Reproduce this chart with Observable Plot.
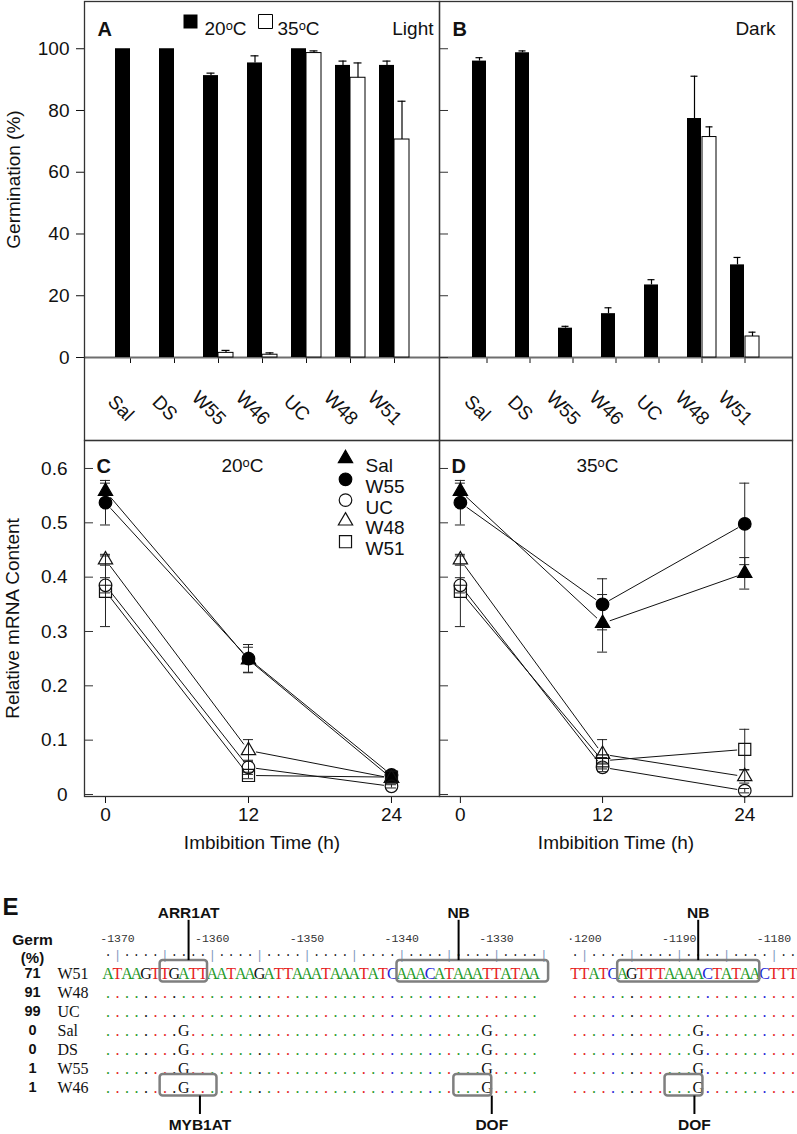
<!DOCTYPE html>
<html><head><meta charset="utf-8">
<script src="https://cdn.jsdelivr.net/npm/d3@7"></script>
<script src="https://cdn.jsdelivr.net/npm/@observablehq/plot@0.6"></script>
<style>
body{margin:0;background:#fff;}
#fig{position:relative;width:797px;height:1134px;overflow:hidden;background:#fff;}
#fig svg{position:absolute;overflow:visible;}
</style></head><body><div id="fig"></div>
<script>
// ---------- DATA ----------
const lines = ["Sal","DS","W55","W46","UC","W48","W51"];
const lightG20 = [100,100,91.3,95.4,100,94.6,94.6];
const lightE20 = [0,0,0.8,2.3,0,1.4,1.4];
const lightG35 = [0,0,1.5,0.9,98.6,90.6,70.6];
const lightE35 = [0,0,0.8,0.6,0.7,4.8,12.4];
const darkG20 = [96.0,98.7,9.5,14.2,23.5,77.4,30.0];
const darkE20 = [1.1,0.6,0.6,1.9,1.7,13.7,2.4];
const darkG35 = [0,0,0,0,0,71.4,6.8];
const darkE35 = [0,0,0,0,0,3.3,1.4];
const germTicks = [0,20,40,60,80,100];

const hours = [0,12,24];
const mrnaSeries = ["Sal","W55","UC","W48","W51"];
const mrna20 = [[0.558,0.248,0.030],[0.537,0.250,0.036],[0.385,0.050,0.015],[0.432,0.081,0.030],[0.374,0.035,0.032]];
const mrna20Err = [[0.015,0.023,0.004],[0.041,0.026,0.005],[0.014,0.013,0.003],[0.010,0.020,0.004],[0.065,0.006,0.004]];
const mrna35 = [[0.558,0.315,0.407],[0.537,0.350,0.498],[0.385,0.050,0.007],[0.432,0.074,0.033],[0.374,0.062,0.083]];
const mrna35Err = [[0.015,0.053,0.029],[0.041,0.047,0.075],[0.014,0.008,0.004],[0.010,0.027,0.012],[0.065,0.006,0.037]];
const mrnaTicks = [0,0.1,0.2,0.3,0.4,0.5,0.6];

const eRows = ["W51","W48","UC","Sal","DS","W55","W46"];
const eGerm = [71,91,99,0,0,1,1];
const seq1 = "ATAAGTTGATTAATAAGATTAAATAAATATCAAACATAAATTATAA";
const seq1Start = -1371;
const seq2 = "TTATCAGTTTAAAACTATAACTTT";
const seq2Start = -1201;
const ruler1 = [-1371, -1325];
const ruler2 = [-1201, -1178];
const snpPos = [-1363, -1331, -1188];
const snpAllele = "G";
const snpLines = ["Sal","DS","W55","W46"];
const rulerPos1 = [-1370,-1360,-1350,-1340,-1330];
const rulerLabels1 = ["-1370","-1360","-1350","-1340","-1330"];
const rulerPos2 = [-1200,-1190,-1180];
const rulerLabels2 = ["·1200","-1190","-1180"];
const topMotifs = ["ARR1AT","NB","NB"];
const topFrom = [-1365,-1340,-1196];
const topTo = [-1361,-1325,-1182];
const topMark = [-1362.5,-1334,-1188];
const bottomMotifs = ["MYB1AT","DOF","DOF"];
const bottomFrom = [-1365,-1334,-1191];
const bottomTo = [-1360,-1331,-1188];
const bottomMark = [-1361.3,-1330.5,-1188.4];

// ---------- HELPERS ----------
const fig = document.getElementById("fig");
function place(svg, left, top){ svg.style.left = left + "px"; svg.style.top = top + "px"; fig.appendChild(svg); }
const FONT = "'Liberation Sans', Arial, Helvetica, sans-serif";
const NARROW = "'Liberation Sans Narrow', 'Liberation Sans', Arial, sans-serif";
const MONO = "'Liberation Mono', 'DejaVu Sans Mono', monospace";
const SEQ = "'Liberation Serif', 'DejaVu Serif', serif";
const style = {fontFamily: FONT, fontSize: "19px", background: "transparent", overflow: "visible", color: "#111"};

// ---------- A / B ----------
function germPlot({letter, cond, condDx, g20, e20, g35, e35, width, marginLeft, marginRight, isLeft, legend}){
  const data = lines.map((c,i) => ({cat:c, v20:g20[i], e20:e20[i], v35:g35[i], e35:e35[i]}));
  const plotW = width - marginLeft - marginRight;
  const err20 = data.filter(d => d.e20 > 0), err35 = data.filter(d => d.e35 > 0 && d.v35 > 0);
  const marks = [
    Plot.ruleY([0], {stroke: "#6e6e6e", strokeWidth: 2}),
    Plot.barY(data, {x: "cat", y: "v20", fill: "#000", insetRight: 15}),
    Plot.barY(data.filter(d => d.v35 > 0), {x: "cat", y: "v35", fill: "#fff", stroke: "#000", strokeWidth: 1, insetLeft: 15}),
    Plot.ruleX(err20, {x: "cat", y1: "v20", y2: d => d.v20 + d.e20, dx: -7.5, stroke: "#000", strokeWidth: 1.2}),
    Plot.tickY(err20, {x: "cat", y: d => d.v20 + d.e20, insetLeft: 3.5, insetRight: 18.5, stroke: "#000", strokeWidth: 1.2}),
    Plot.ruleX(err35, {x: "cat", y1: "v35", y2: d => d.v35 + d.e35, dx: 7.5, stroke: "#000", strokeWidth: 1.2}),
    Plot.tickY(err35, {x: "cat", y: d => d.v35 + d.e35, insetLeft: 18.5, insetRight: 3.5, stroke: "#000", strokeWidth: 1.2}),
    Plot.frame({stroke: "#333", strokeWidth: 1.3, insetBottom: -83}),
    Plot.text(lines, {x: d => d, frameAnchor: "bottom", rotate: 45, dx: -14, dy: 55, fontSize: 19, textAnchor: "middle"}),
    Plot.text([letter], {frameAnchor: "top-left", dx: 13, dy: 20, fontWeight: "bold", fontSize: 20, textAnchor: "start"}),
    Plot.text([cond], {frameAnchor: "top-right", dx: condDx, dy: 20, textAnchor: "end", fontSize: 19})
  ];
  if (!isLeft) marks.push(Plot.tickY(germTicks, {y: d => d, insetRight: plotW - 9, stroke: "#333"}));
  if (isLeft) marks.push(Plot.text(["Germination (%)"], {frameAnchor: "left", dx: -71, rotate: -90, fontSize: 19, textAnchor: "middle"}));
  if (legend) {
    marks.push(
      Plot.dot(["20"], {frameAnchor: "top-left", dx: 106, dy: 20, symbol: "square", r: 7.9, fill: "#000"}),
      Plot.text(["20ᵒC"], {frameAnchor: "top-left", dx: 120, dy: 20, textAnchor: "start", fontSize: 19}),
      Plot.dot(["35"], {frameAnchor: "top-left", dx: 181, dy: 20, symbol: "square", r: 7.9, fill: "#fff", stroke: "#000", strokeWidth: 1}),
      Plot.text(["35ᵒC"], {frameAnchor: "top-left", dx: 193, dy: 20, textAnchor: "start", fontSize: 19})
    );
  }
  return Plot.plot({
    width, height: 445, marginTop: 1, marginBottom: 88, marginLeft, marginRight, style,
    x: {type: "band", domain: lines, paddingInner: 0.323, paddingOuter: 0.68, tickSize: 6, tickFormat: () => "", label: null},
    y: {domain: [0, 115.3], ticks: germTicks, tickSize: 8, tickPadding: 7, label: null, axis: isLeft ? "left" : null},
    marks
  });
}
place(germPlot({letter: "A", cond: "Light", condDx: -6, g20: lightG20, e20: lightE20, g35: lightG35, e35: lightE35, width: 440, marginLeft: 84, marginRight: 1, isLeft: true, legend: true}), 0, 0);
place(germPlot({letter: "B", cond: "Dark", condDx: -17, g20: darkG20, e20: darkE20, g35: darkG35, e35: darkE35, width: 363, marginLeft: 5, marginRight: 5, isLeft: false, legend: false}), 434, 0);

// ---------- C / D ----------
const seriesStyle = {
  Sal: {symbol: "triangle", r: 5.3, fill: "#000", stroke: "#000"},
  W55: {symbol: "circle", r: 6.3, fill: "#000", stroke: "#000"},
  UC: {symbol: "circle", r: 6.3, fill: "none", stroke: "#111"},
  W48: {symbol: "triangle", r: 5.3, fill: "none", stroke: "#111"},
  W51: {symbol: "square", r: 6.8, fill: "none", stroke: "#111"}
};
function mrnaPlot({letter, temp, vals, errs, width, marginLeft, marginRight, isLeft, legend}){
  const plotW = width - marginLeft - marginRight;
  const pts = [], segs = [];
  mrnaSeries.forEach((s, si) => {
    hours.forEach((h, hi) => pts.push({s, h, v: vals[si][hi], e: errs[si][hi]}));
    for (let hi = 0; hi < hours.length - 1; hi++) segs.push({s, x1: hours[hi], y1: vals[si][hi], x2: hours[hi+1], y2: vals[si][hi+1]});
  });
  const marks = [
    Plot.frame({stroke: "#333", strokeWidth: 1.3}),
    Plot.arrow(segs, {x1: "x1", y1: "y1", x2: "x2", y2: "y2", headLength: 0, insetStart: 8, insetEnd: 8, stroke: "#111", strokeWidth: 1}),
    Plot.ruleX(pts, {x: "h", y1: d => d.v - d.e, y2: d => d.v + d.e, stroke: "#222", strokeWidth: 1}),
    Plot.ruleY(pts, {y: d => d.v + d.e, x1: "h", x2: "h", insetLeft: -5, insetRight: -5, stroke: "#222", strokeWidth: 1}),
    Plot.ruleY(pts, {y: d => d.v - d.e, x1: "h", x2: "h", insetLeft: -5, insetRight: -5, stroke: "#222", strokeWidth: 1}),
    ...mrnaSeries.map(s => Plot.dot(pts.filter(d => d.s === s), {x: "h", y: "v", ...seriesStyle[s], strokeWidth: 1.2})),
    Plot.tickY(mrnaTicks, {y: d => d, insetRight: plotW - 9, stroke: "#333"}),
    Plot.text([letter], {frameAnchor: "top-left", dx: 12, dy: 18, fontWeight: "bold", fontSize: 20, textAnchor: "start"}),
    Plot.text([temp], {frameAnchor: "top-left", dx: 158, dy: 18, fontSize: 19, textAnchor: "middle"}),
    Plot.text(["Imbibition Time (h)"], {frameAnchor: "bottom", dy: 52, fontSize: 19, textAnchor: "middle"})
  ];
  if (isLeft) marks.push(Plot.text(["Relative mRNA Content"], {frameAnchor: "left", dx: -72, rotate: -90, fontSize: 19, textAnchor: "middle"}));
  if (legend) {
    mrnaSeries.forEach((s, i) => {
      marks.push(Plot.dot([s], {frameAnchor: "top-left", dx: 261, dy: 18 + 20.8 * i, ...seriesStyle[s], strokeWidth: 1.2}));
      marks.push(Plot.text([s], {frameAnchor: "top-left", dx: 281, dy: 18 + 20.8 * i, textAnchor: "start", fontSize: 19}));
    });
  }
  return Plot.plot({
    width, height: 430, marginTop: 5, marginBottom: 69, marginLeft, marginRight, style,
    x: {domain: [-1.762, 28.03], ticks: hours, tickSize: 7, tickPadding: 4, label: null},
    y: {domain: [-0.0037, 0.6515], ticks: mrnaTicks, tickSize: 0, tickPadding: 17, label: null,
        tickFormat: d => d === 0 ? "0" : d.toFixed(1), axis: isLeft ? "left" : null},
    marks
  });
}
place(mrnaPlot({letter: "C", temp: "20ᵒC", vals: mrna20, errs: mrna20Err, width: 440, marginLeft: 84, marginRight: 1, isLeft: true, legend: true}), 0, 435);
place(mrnaPlot({letter: "D", temp: "35ᵒC", vals: mrna35, errs: mrna35Err, width: 363, marginLeft: 5, marginRight: 5, isLeft: false, legend: false}), 434, 435);

// ---------- E ----------
const BLOCK2_OFFSET = 49.29;
const colOf = p => p <= -1300 ? p - seq1Start + 1 : p - seq2Start + 1 + BLOCK2_OFFSET;
const baseColor = {A: "#1f9a2a", T: "#e52222", C: "#2424d8", G: "#111"};
const rowOf = name => eRows.indexOf(name);
const seqItems = [];
eRows.forEach((row, ri) => {
  [[seq1, seq1Start], [seq2, seq2Start]].forEach(([seq, start]) => {
    for (let k = 0; k < seq.length; k++) {
      const p = start + k, base = seq[k];
      const snp = snpLines.includes(row) && snpPos.includes(p);
      seqItems.push({row: ri, col: colOf(p), ch: ri === 0 ? base : (snp ? snpAllele : "."), color: snp ? baseColor[snpAllele] : baseColor[base]});
    }
  });
});
const rulerItems = [];
[ruler1, ruler2].forEach(([a, b]) => { for (let p = a; p <= b; p++) rulerItems.push({col: colOf(p), ch: p % 5 === 0 ? "|" : "·", color: p % 5 === 0 ? "#7d97bd" : "#222"}); });
const rulerLabelItems = rulerPos1.map((p, i) => ({col: colOf(p), t: rulerLabels1[i]})).concat(rulerPos2.map((p, i) => ({col: colOf(p), t: rulerLabels2[i]})));
const topItems = topMotifs.map((m, i) => ({m, x1: colOf(topFrom[i]) - 0.5, x2: colOf(topTo[i]) + 0.5, mark: colOf(topMark[i]), row: rowOf("W51")}));
const botItems = bottomMotifs.map((m, i) => ({m, x1: colOf(bottomFrom[i]) - 0.5, x2: colOf(bottomTo[i]) + 0.5, mark: colOf(bottomMark[i]), row: rowOf("W46")}));
const boxOpts = {y1: d => d.row - 0.68, y2: d => d.row + 0.45, stroke: "#7f7f7f", strokeWidth: 2.5, fill: "none", rx: 3};

const ePlot = Plot.plot({
  width: 797, height: 254, margin: 0, style,
  x: {domain: [-10.35, 73.77], range: [0, 797], axis: null},
  y: {domain: [-4.8947, 8.4737], range: [0, 254], axis: null},
  color: {type: "identity"},
  marks: [
    Plot.text(["E"], {frameAnchor: "top-left", dx: 2, dy: 17, fontWeight: "bold", fontSize: 24, textAnchor: "start"}),
    Plot.text(["Germ"], {frameAnchor: "top-left", dx: 32, dy: 53, fontFamily: NARROW, fontWeight: "bold", fontSize: 15.5, textAnchor: "middle"}),
    Plot.text(["(%)"], {frameAnchor: "top-left", dx: 32, dy: 72, fontFamily: NARROW, fontWeight: "bold", fontSize: 15, textAnchor: "middle"}),
    Plot.text(eGerm, {y: (d, i) => i, frameAnchor: "left", dx: 32, text: d => String(d), fontFamily: NARROW, fontWeight: "bold", fontSize: 14.5, textAnchor: "middle"}),
    Plot.text(eRows, {y: (d, i) => i, frameAnchor: "left", dx: 57, text: d => d, textAnchor: "start", fontFamily: SEQ, fontSize: 16}),
    Plot.text(rulerLabelItems, {x: "col", y: () => -1.84, text: "t", fontFamily: MONO, fontSize: 11.5, fill: "#333"}),
    Plot.text(rulerItems, {x: "col", y: () => -0.97, text: "ch", fill: "color", fontFamily: MONO, fontSize: 12}),
    Plot.text(seqItems, {x: "col", y: "row", text: "ch", fill: "color", fontFamily: SEQ, fontSize: 16}),
    Plot.rect(topItems, {x1: "x1", x2: "x2", ...boxOpts}),
    Plot.rect(botItems, {x1: "x1", x2: "x2", ...boxOpts}),
    Plot.ruleX(topItems, {x: "mark", y1: d => d.row - 2.8, y2: d => d.row - 0.68, stroke: "#000", strokeWidth: 2}),
    Plot.text(topItems, {x: "mark", y: d => d.row - 3.2, text: "m", fontFamily: NARROW, fontWeight: "bold", fontSize: 15.5}),
    Plot.ruleX(botItems, {x: "mark", y1: d => d.row + 0.45, y2: d => d.row + 1.42, stroke: "#000", strokeWidth: 2}),
    Plot.text(botItems, {x: "mark", y: d => d.row + 1.95, text: "m", fontFamily: NARROW, fontWeight: "bold", fontSize: 15.5})
  ]
});
place(ePlot, 0, 880);
</script></body></html>
